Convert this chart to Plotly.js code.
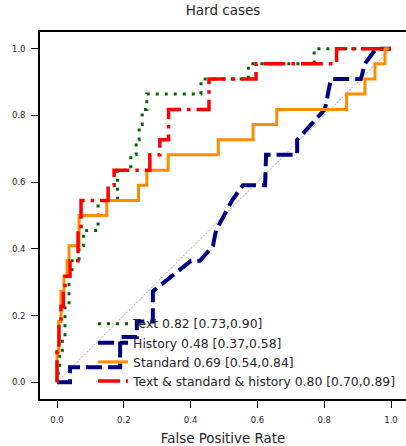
<!DOCTYPE html>
<html>
<head>
<meta charset="utf-8">
<script src="https://cdn.plot.ly/plotly-3.0.1.min.js"></script>
<style>html,body{margin:0;padding:0;background:#fff;}#chart{width:406px;height:446px;}</style>
</head>
<body>
<div id="chart"></div>
<script>
// ROC curve data (false positive rate, true positive rate)
const seriesNames = [
  "Text 0.82 [0.73,0.90]",
  "History 0.48 [0.37,0.58]",
  "Standard 0.69 [0.54,0.84]",
  "Text & standard & history 0.80 [0.70,0.89]"
];
const textFpr = [0,0.004,0.004,0.0075,0.0075,0.016,0.016,0.024,0.024,0.036,0.036,0.045,0.045,0.066,0.066,0.079,0.079,0.123,0.123,0.181,0.181,0.221,0.221,0.237,0.237,0.246,0.246,0.255,0.255,0.269,0.269,0.431,0.431,0.573,0.573,0.770,0.770,1];
const textTpr = [0,0,0.045,0.045,0.091,0.091,0.136,0.136,0.227,0.227,0.318,0.318,0.364,0.364,0.409,0.409,0.455,0.455,0.545,0.545,0.636,0.636,0.682,0.682,0.727,0.727,0.773,0.773,0.818,0.818,0.864,0.864,0.909,0.909,0.955,0.955,1,1];

const historyFpr = [0,0.039,0.039,0.189,0.189,0.239,0.239,0.287,0.287,0.401,0.428,0.467,0.476,0.5,0.524,0.557,0.623,0.626,0.719,0.719,0.802,0.82,0.91,0.922,0.955,1];
const historyTpr = [0,0,0.045,0.045,0.136,0.136,0.182,0.182,0.273,0.364,0.364,0.409,0.455,0.5,0.545,0.591,0.591,0.682,0.682,0.727,0.818,0.909,0.909,0.955,1,1];

const standardFpr = [0,0,0.005,0.005,0.012,0.012,0.021,0.021,0.03,0.03,0.036,0.036,0.066,0.066,0.149,0.149,0.244,0.244,0.269,0.269,0.333,0.333,0.483,0.483,0.587,0.587,0.658,0.658,0.867,0.867,0.922,0.922,0.952,0.952,0.982,0.982,1];
const standardTpr = [0,0.091,0.091,0.182,0.182,0.273,0.273,0.318,0.318,0.364,0.364,0.409,0.409,0.5,0.5,0.545,0.545,0.591,0.591,0.636,0.636,0.682,0.682,0.727,0.727,0.773,0.773,0.818,0.818,0.864,0.864,0.909,0.909,0.955,0.955,1,1];

const comboFpr = [0,0,0.006,0.006,0.012,0.012,0.019,0.019,0.024,0.024,0.039,0.039,0.063,0.063,0.072,0.072,0.153,0.153,0.171,0.171,0.278,0.278,0.308,0.308,0.334,0.334,0.455,0.455,0.596,0.596,0.837,0.837,1];
const comboTpr = [0,0.091,0.091,0.182,0.182,0.227,0.227,0.273,0.273,0.318,0.318,0.364,0.364,0.455,0.455,0.545,0.545,0.591,0.591,0.636,0.636,0.682,0.682,0.727,0.727,0.818,0.818,0.909,0.909,0.955,0.955,1,1];

const chanceX = [0,1];
const chanceY = [0,1];
const tickVals = [0,0.2,0.4,0.6,0.8,1.0];
const tickText = ["0.0","0.2","0.4","0.6","0.8","1.0"];

const FONT = "DejaVu Sans, sans-serif";
const traces = [
  {x: chanceX, y: chanceY, mode: "lines", showlegend: false, hoverinfo: "skip",
   line: {color: "#8c8c8c", width: 0.8, dash: "2px,1.5px"}},
  {x: textFpr, y: textTpr, mode: "lines", name: seriesNames[0],
   line: {color: "#006400", width: 3, dash: "3px,6px"}},
  {x: historyFpr, y: historyTpr, mode: "lines", name: seriesNames[1],
   line: {color: "#000080", width: 4, dash: "16px,6px"}},
  {x: standardFpr, y: standardTpr, mode: "lines", name: seriesNames[2],
   line: {color: "#ff8c00", width: 3}},
  {x: comboFpr, y: comboTpr, mode: "lines", name: seriesNames[3],
   line: {color: "#ff0000", width: 3.5, dash: "22px,6px,3.5px,6px"}}
];

const layout = {
  width: 406, height: 446,
  margin: {l: 40, r: 0, t: 32, b: 47, pad: 0},
  paper_bgcolor: "#ffffff", plot_bgcolor: "#ffffff",
  font: {family: FONT, color: "#262626"},
  showlegend: true,
  title: {text: "Hard cases", font: {family: FONT, size: 13.5, color: "#262626"},
          x: 0.5, xref: "paper", y: 1, yref: "container", yanchor: "top", pad: {t: 6}},
  xaxis: {
    range: [-0.0509, 1.0449], tickvals: tickVals, ticktext: tickText,
    showgrid: false, zeroline: false, showline: true, mirror: true,
    linecolor: "#000", linewidth: 1.8,
    ticks: "outside", ticklen: 7, tickwidth: 1, tickcolor: "#000",
    tickfont: {family: FONT, size: 8.5, color: "#262626"},
    ticklabelstandoff: 5,
    title: {text: "False Positive Rate", font: {family: FONT, size: 13.4, color: "#262626"}, standoff: 10}
  },
  yaxis: {
    range: [-0.05, 1.05], tickvals: tickVals, ticktext: tickText,
    showgrid: false, zeroline: false, showline: true, mirror: false,
    linecolor: "#000", linewidth: 1.8,
    ticks: "outside", ticklen: 7, tickwidth: 1, tickcolor: "#000",
    tickfont: {family: FONT, size: 8.5, color: "#262626"},
    ticklabelstandoff: 4
  },
  legend: {
    x: 0.145, xanchor: "left", y: 0.245, yanchor: "top",
    bgcolor: "rgba(0,0,0,0)", borderwidth: 0,
    font: {family: FONT, size: 12.4, color: "#262626"},
    tracegroupgap: 0
  }
};

Plotly.newPlot("chart", traces, layout, {displayModeBar: false, staticPlot: true});
</script>
</body>
</html>
